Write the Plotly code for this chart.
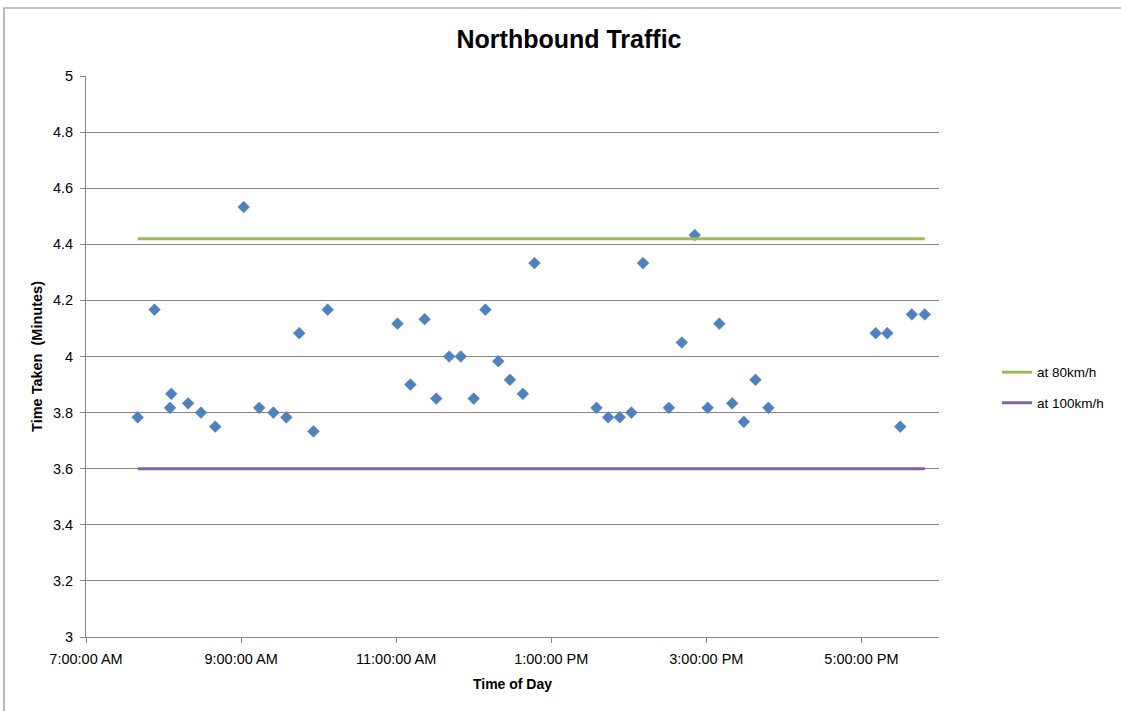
import plotly.graph_objects as go

# Trip observations: time of departure and minutes taken
times = [
    "07:40", "07:53", "08:05", "08:06", "08:19", "08:29", "08:40", "09:02",
    "09:14", "09:25", "09:35", "09:45", "09:56", "10:07", "11:01", "11:11",
    "11:22", "11:31", "11:41", "11:50", "12:00", "12:09", "12:19", "12:28",
    "12:38", "12:47", "13:35", "13:44", "13:53", "14:02", "14:11", "14:31",
    "14:41", "14:51", "15:01", "15:10", "15:20", "15:29", "15:38", "15:48",
    "17:11", "17:20", "17:30", "17:39", "17:49",
]
minutes = [
    3.783, 4.167, 3.817, 3.867, 3.833, 3.800, 3.750, 4.533,
    3.817, 3.800, 3.783, 4.083, 3.733, 4.167, 4.117, 3.900,
    4.133, 3.850, 4.000, 4.000, 3.850, 4.167, 3.983, 3.917,
    3.867, 4.333, 3.817, 3.783, 3.783, 3.800, 4.333, 3.817,
    4.050, 4.433, 3.817, 4.117, 3.833, 3.767, 3.917, 3.817,
    4.083, 4.083, 3.750, 4.150, 4.150,
]

# Reference travel times at constant speed
ref_names = ["at 80km/h", "at 100km/h"]
ref_values = [4.42, 3.60]
ref_colors = ["#9BBB59", "#8064A2"]

x_tick_times = ["07:00", "09:00", "11:00", "13:00", "15:00", "17:00"]
x_tick_labels = ["7:00:00 AM", "9:00:00 AM", "11:00:00 AM",
                 "1:00:00 PM", "3:00:00 PM", "5:00:00 PM"]
y_ticks = [3, 3.2, 3.4, 3.6, 3.8, 4, 4.2, 4.4, 4.6, 4.8, 5]

DAY = "2000-01-01 "
xs = [DAY + t for t in times]

fig = go.Figure()

fig.add_trace(go.Scatter(
    x=xs, y=minutes, mode="markers", showlegend=False,
    marker=dict(symbol="diamond", size=9, color="#4F81BD",
                line=dict(width=0.6, color="#4A7EBB")),
))

for name, val, col in zip(ref_names, ref_values, ref_colors):
    fig.add_trace(go.Scatter(
        x=[xs[0], xs[-1]], y=[val, val], mode="lines", name=name,
        legendgroup=name,
        line=dict(color=col, width=3),
    ))

font_family = "Liberation Sans, Arial, sans-serif"

fig.update_layout(
    width=1121, height=711,
    margin=dict(l=86, r=182, t=76, b=74, autoexpand=False),
    paper_bgcolor="white", plot_bgcolor="white",
    font=dict(family=font_family, size=13, color="#000000"),
    title=dict(text="<b>Northbound Traffic</b>", x=569 / 1121, xref="container",
               xanchor="center", y=1 - 39 / 711, yref="container", yanchor="middle",
               font=dict(size=25, family=font_family)),
    legend=dict(x=1.068, xanchor="left", y=0.444, yanchor="middle",
                font=dict(size=13.5), tracegroupgap=10,
                bgcolor="rgba(0,0,0,0)"),
    shapes=[dict(type="rect", xref="paper", yref="paper",
                 x0=(4 - 86) / 853, x1=2.0, y0=-1.0, y1=(637 - 8) / 561,
                 line=dict(color="#8C8C8C", width=1.2), layer="below")],
)

fig.update_xaxes(
    type="date",
    range=[DAY + "07:00", DAY + "18:00"],
    tickvals=[DAY + t for t in x_tick_times], ticktext=x_tick_labels,
    showgrid=False, showline=True, linecolor="#868686", linewidth=1,
    ticks="outside", ticklen=5, tickcolor="#868686",
    tickfont=dict(size=14.5), ticklabelstandoff=4,
    title=dict(text="<b>Time of Day</b>", font=dict(size=14), standoff=12),
    zeroline=False,
)

fig.update_yaxes(
    range=[3, 5], tickvals=y_ticks,
    ticktext=[f"{v:g}" for v in y_ticks],
    showgrid=True, gridcolor="#868686", gridwidth=1,
    showline=True, linecolor="#868686", linewidth=1,
    ticks="outside", ticklen=5, tickcolor="#868686",
    tickfont=dict(size=14.5), ticklabelstandoff=4,
    title=dict(text="<b>Time Taken  (Minutes)</b>", font=dict(size=14.5), standoff=6),
    zeroline=False,
)

fig.write_html("out.html")
